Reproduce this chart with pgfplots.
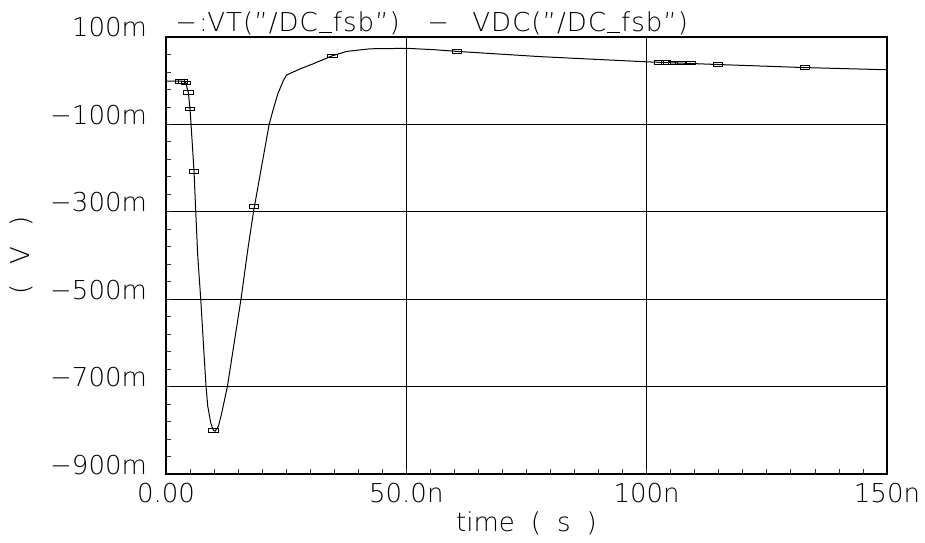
\documentclass[border=0pt]{standalone}
\usepackage{fontspec}
\setmainfont{DejaVu Sans ExtraLight}
\usepackage{pgfplots}
\pgfplotsset{compat=1.18}
\pgfdeclareplotmark{rectm}{%
  \pgfpathrectangle{\pgfqpoint{-2.3pt}{-0.9pt}}{\pgfqpoint{4.6pt}{1.8pt}}%
  \pgfusepathqstroke}
\newcommand{\lf}{\fontsize{13}{15}\selectfont}
\newcommand{\tf}{\fontsize{13}{15}\selectfont\addfontfeature{LetterSpace=4}}
\newcommand{\us}{\kern0.5pt\rule[-0.6pt]{6.5pt}{0.6pt}\kern0.5pt}
\begin{document}
\begin{tikzpicture}[x=1pt,y=1pt]
\useasboundingbox (-83,-34) rectangle (379.5,237);
\begin{axis}[
  at={(0,0)}, anchor=south west,
  scale only axis, width=360.5pt, height=218.5pt,
  xmin=0, xmax=150, ymin=-900, ymax=100,
  xtick={0,50,100,150}, xticklabels={0.00,50.0n,100n,150n},
  ytick={-900,-700,-500,-300,-100,100},
  yticklabels={−900m,−700m,−500m,−300m,−100m,100m},
  minor x tick num=9, minor y tick num=4,
  tick align=inside, xtick pos=bottom, ytick pos=left,
  major tick length=2.5pt, minor tick length=2.5pt,
  grid=major, major grid style={black, line width=0.5pt},
  axis line style={black, line width=0.8pt},
  tick style={black!80, line width=0.4pt},
  /pgf/number format/assume math mode=true,
  tick label style={font=\lf, text=black},
  label style={font=\lf, text=black},
  yticklabel style={anchor=base east, xshift=-6pt},
  xticklabel style={yshift=-1pt},
  xlabel={time\hspace{8pt}(\hspace{8pt}s\hspace{8pt})},
  ylabel={(\hspace{10pt}V\hspace{10pt})},
  xlabel style={at={(axis description cs:0.5,-0.112)}, anchor=center},
  ylabel style={at={(axis description cs:-0.2,0.5)}, anchor=center},
  clip=false,
]
\addplot[black, line width=0.5pt] coordinates {
(0,-1) (3.5,-1) (4.1,-5) (4.65,-27) (5.0,-65) (5.21,-100) (5.83,-207)
(6.19,-300) (6.6,-400) (7.23,-500) (7.8,-605) (8.33,-700) (8.69,-745)
(9.31,-783) (9.85,-800) (10.2,-802) (10.9,-791) (11.6,-760) (12.77,-700)
(15.6,-500) (17.0,-388) (18.2,-300) (21.46,-100) (22.35,-64) (23.3,-29)
(24.4,0) (25.1,13) (27.9,27) (30.7,39) (34.6,57) (37.6,67) (42.5,73)
(50.1,74) (55.7,71) (60.6,67) (77.9,55) (100.3,43) (114.8,37) (132.9,30)
(150,25)
};
\addplot[only marks, mark=rectm, black, mark options={line width=0.4pt}] coordinates {
(2.9,-1) (3.5,-1) (4.1,-5) (4.65,-27) (5.0,-65) (5.83,-207)
(9.85,-800) (18.3,-288) (34.6,57) (60.6,67)
(102.5,42) (104,41.5) (105.5,41) (107,40.8) (109.2,40.3)
(114.8,37) (132.9,30)
};
\node[anchor=base west, inner sep=0pt, font=\tf] at (rel axis cs:0.0125,1) [yshift=2.5pt] {−\kern1pt:};
\node[anchor=base west, inner sep=0pt, font=\tf] at (rel axis cs:0.0569,1) [yshift=2.5pt] {VT("/DC\us fsb")};
\node[anchor=base west, inner sep=0pt, font=\tf] at (rel axis cs:0.362,1) [yshift=2.5pt] {−};
\node[anchor=base west, inner sep=0pt, font=\tf] at (rel axis cs:0.4244,1) [yshift=2.5pt] {VDC("/DC\us fsb")};
\end{axis}
\end{tikzpicture}
\end{document}
